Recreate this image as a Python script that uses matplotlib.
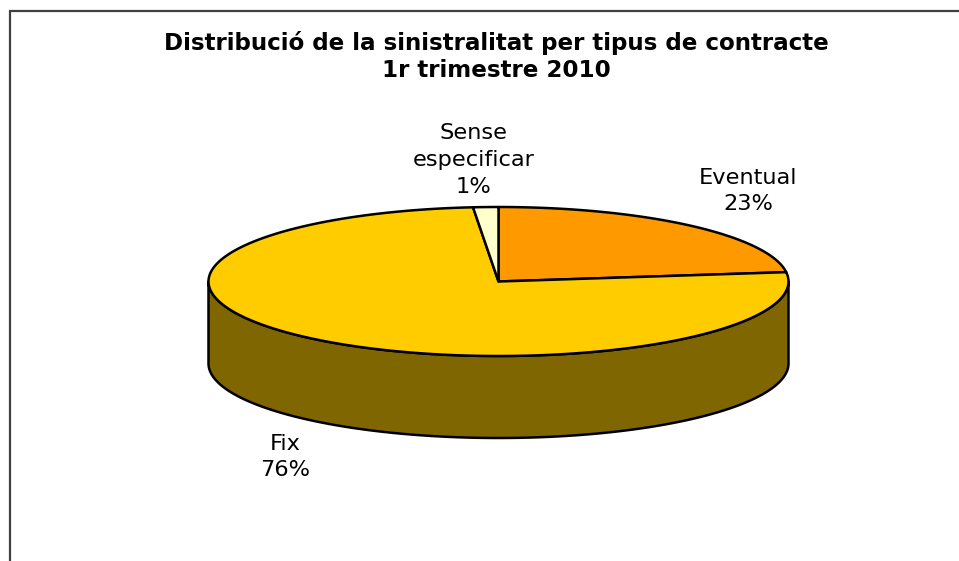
import numpy as np
import matplotlib
matplotlib.use("Agg")
import matplotlib.pyplot as plt
from matplotlib.patches import Polygon

title = "Distribució de la sinistralitat per tipus de contracte\n1r trimestre 2010"
categories = ["Eventual", "Fix", "Sense\nespecificar"]
values = [23.0, 75.6, 1.4]
shown_pct = ["23%", "76%", "1%"]
colors = ["#FF9900", "#FFCC00", "#FFFFCC"]
side_color = "#806600"
label_xy = [(748, 191), (285, 457), (473.5, 160)]

W, H = 959, 561
cx, cy, rx, ry, depth = 498.5, 281.5, 290, 74.5, 82

fig = plt.figure(figsize=(W / 100, H / 100), dpi=100)
ax = fig.add_axes([0, 0, 1, 1])
ax.set_xlim(0, W)
ax.set_ylim(H, 0)
ax.axis("off")

def pt(theta):
    return cx + rx * np.sin(theta), cy - ry * np.cos(theta)

t = np.linspace(np.pi / 2, 3 * np.pi / 2, 200)
xs, ys = pt(t)
side = np.r_[np.c_[xs, ys], np.c_[xs[::-1], ys[::-1] + depth]]
ax.add_patch(Polygon(side, closed=True, fc=side_color, ec="black", lw=1.8, joinstyle="round"))

start = 0.0
for v, c in zip(values, colors):
    a0 = start / sum(values) * 2 * np.pi
    start += v
    a1 = start / sum(values) * 2 * np.pi
    t = np.linspace(a0, a1, 300)
    xs, ys = pt(t)
    poly = np.r_[[[cx, cy]], np.c_[xs, ys]]
    ax.add_patch(Polygon(poly, closed=True, fc=c, ec="black", lw=1.8, joinstyle="round"))

ax.plot([9.5, 9.5, W], [H, 11, 11], color="#404040", lw=1.6, solid_joinstyle="miter")

ax.text(496, 56.5, title, ha="center", va="center", fontsize=16.6, fontweight="bold",
        family="DejaVu Sans", color="black", linespacing=1.2)
for (x, y), name, pct in zip(label_xy, categories, shown_pct):
    ax.text(x, y, name + "\n" + pct, ha="center", va="center",
            fontsize=16.2, family="DejaVu Sans", color="black", linespacing=1.42)

fig.savefig("out.png", dpi=100, facecolor="white")
